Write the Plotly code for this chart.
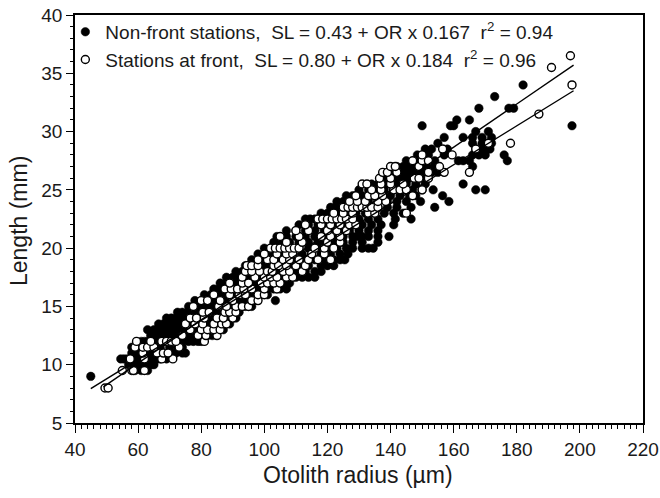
import plotly.graph_objects as go

# Non-front stations (filled): length level (mm) -> otolith radii (um)
nonfront_rows = [
    (9.0, [45]),
    (9.5, [59, 61, 63]),
    (10.0, [57, 58, 59.5, 61, 62.5, 64, 65]),
    (10.5, [54.5, 55.5, 56.5, 58, 59, 61, 63, 64.5, 66, 67, 69]),
    (11.0, [58, 59.5, 61, 63, 64, 66.5, 68, 70.5, 72, 74, 75]),
    (11.5, [58, 60.5, 62, 63.5, 66, 67, 70, 72.5, 74]),
    (12.0, [61, 62, 63, 65.5, 66, 68, 73, 74, 76, 77.5, 79, 80]),
    (12.5, [64, 65.5, 67, 69, 71, 72.5, 75, 76.5, 78, 80, 82, 83.5]),
    (13.0, [63, 65, 66.5, 68, 69.5, 71, 73, 75, 77, 79, 81, 83, 85, 87]),
    (13.5, [66.5, 68, 70, 72, 73.5, 75, 77, 79, 81, 83, 85, 87, 89]),
    (14.0, [69, 70.5, 72, 74, 76, 78, 80, 82, 84, 86, 88, 89.5, 91]),
    (14.5, [72.5, 74, 76, 78, 80, 82, 84, 86, 88, 90, 92]),
    (15.0, [76, 78, 80, 82, 84, 86, 88, 90, 92, 94, 96]),
    (15.5, [78, 80, 81.5, 83, 85, 87, 89, 91, 93, 95, 97, 103.5]),
    (16.0, [81, 83, 85, 87, 89, 91, 93, 95, 97, 99, 101]),
    (16.5, [84, 85.5, 87, 89, 91, 93, 95, 97, 99, 101, 103, 105, 107]),
    (17.0, [86, 88, 90, 92, 94, 96, 98, 100, 102, 104, 106, 108]),
    (17.5, [88, 90, 92, 94, 96, 98, 100, 102, 104, 106, 108, 110, 112, 114, 116]),
    (18.0, [91, 93, 95, 97, 99, 101, 103, 105, 107, 109, 111, 113, 116, 118]),
    (18.5, [94, 96, 98, 100, 102, 104, 106, 108, 110, 112, 114, 118, 120, 122]),
    (19.0, [96, 98, 100, 102, 104, 107, 110, 113, 116, 119, 122, 124, 125.5]),
    (19.5, [98, 100.5, 103, 106, 109, 112, 115, 118, 121, 124, 126.5]),
    (20.0, [100, 102, 105, 108, 111, 114, 117, 120, 123, 126, 128, 131, 133, 134.5]),
    (20.5, [103, 105, 108, 111, 114, 117, 119, 122, 125, 128, 131, 136]),
    (21.0, [104, 107, 110, 113, 116, 119, 122, 125, 128, 129.5, 131, 133, 136, 139.5]),
    (21.5, [107, 110, 113, 116, 119, 121, 124, 127, 130, 133, 136]),
    (22.0, [111, 114, 117, 119, 122, 125, 128, 131, 134, 137, 141]),
    (22.5, [113, 114.5, 116, 118, 121, 124, 127, 130, 133, 136, 141.5, 146.5]),
    (23.0, [118, 120, 123, 126, 129, 132, 135, 138, 141, 144]),
    (23.5, [121, 122.5, 124, 127, 130, 133, 136, 139, 142, 146.5, 154]),
    (24.0, [123, 125, 127, 130, 133, 136, 139, 142, 145, 149.5, 158.5]),
    (24.5, [126, 128, 131, 134, 137, 140, 143, 146, 148, 156.5]),
    (25.0, [130, 133, 135.5, 138, 141, 144, 147, 150, 153.5, 167, 170]),
    (25.5, [134, 136, 139, 142, 145, 148, 151, 163]),
    (26.0, [137, 139, 142, 144, 146, 148, 150, 152]),
    (26.5, [141, 144, 146, 148, 150, 153, 155]),
    (27.0, [142, 144, 145, 147, 151, 153, 155, 166]),
    (27.5, [145, 149, 152, 154, 161.5, 163, 165, 177]),
    (28.0, [148.5, 152, 157, 166, 168, 170, 176]),
    (28.5, [151, 153, 158, 167, 168.5, 170, 171.5]),
    (29.0, [155, 166, 169, 170.5, 172]),
    (29.5, [157, 163, 166, 169, 172]),
    (30.0, [167, 171]),
    (30.5, [150, 159, 160, 197.5]),
    (31.0, [161, 165]),
    (32.0, [168, 177.5, 179]),
    (33.0, [173]),
    (34.0, [182]),
]

# Stations at front (open): length level (mm) -> otolith radii (um)
front_rows = [
    (8.0, [49.5, 50.5]),
    (9.5, [55, 58, 58.5, 62]),
    (10.5, [57.5, 62, 67.5, 71]),
    (11.0, [61.5, 66, 68, 69.5]),
    (11.5, [59, 61.5, 63, 65, 73]),
    (12.0, [59.5, 64, 67.5, 69, 70.5, 72, 81]),
    (12.5, [74, 79, 81.5, 85]),
    (13.0, [76.5, 80, 82, 84, 86]),
    (13.5, [75, 78, 80.5, 84, 86.5, 88]),
    (14.0, [76.5, 78.5, 81, 85, 87, 90]),
    (14.5, [80.5, 82.5, 87.5, 89, 91]),
    (15.0, [77.5, 85.5, 88, 91, 93, 95]),
    (15.5, [80, 82, 86, 90, 96, 98]),
    (16.0, [84, 89, 92, 94, 98, 100]),
    (16.5, [87.5, 89.5, 91.5, 93.5, 96, 100, 104]),
    (17.0, [89, 93, 95, 99, 101, 103, 105]),
    (17.5, [93, 97, 100, 102, 104, 107, 109]),
    (18.0, [94, 96, 98.5, 101, 102.5, 106, 108, 112]),
    (18.5, [94.5, 96, 98, 103, 104.5, 107, 110, 113]),
    (19.0, [98, 101, 103, 106, 108, 111, 114, 117, 121]),
    (19.5, [100, 104, 107, 109, 115, 119]),
    (20.0, [102, 103.5, 105, 106.5, 108, 109.5, 111, 116, 119, 122]),
    (20.5, [107, 112, 120, 124]),
    (21.0, [105, 111, 118, 121, 124]),
    (21.5, [110, 114, 120, 123, 126]),
    (22.0, [113, 118, 121, 124, 127, 129]),
    (22.5, [117, 118.5, 120, 121.5, 123, 124.5, 126, 128]),
    (23.0, [122, 125, 128, 133, 135, 145]),
    (23.5, [125, 126.5, 128, 129.5, 131, 132.5, 134, 136]),
    (24.0, [127, 129.5, 132, 136, 138.5]),
    (24.5, [129, 133, 135, 137.5, 147]),
    (25.0, [134, 137, 141, 143, 145, 150]),
    (25.5, [131, 132.5, 137, 140, 144]),
    (26.0, [136.5, 140, 147.5, 149, 152]),
    (26.5, [137.5, 139, 142, 152, 157, 165]),
    (27.0, [140, 141.5, 149, 155.5]),
    (27.5, [147, 150, 152]),
    (28.0, [150, 159.5]),
    (28.5, [156.5, 167]),
    (29.0, [171, 178]),
    (31.5, [187]),
    (34.0, [197.5]),
    (35.5, [191]),
    (36.5, [197]),
]

# Fitted lines (end points)
nonfront_fit_x = [45, 198]
nonfront_fit_y = [7.95, 33.5]
front_fit_x = [49, 198]
front_fit_y = [8.1, 35.7]

nonfront_x = [x for y, xs in nonfront_rows for x in xs]
nonfront_y = [y for y, xs in nonfront_rows for x in xs]
front_x = [x for y, xs in front_rows for x in xs]
front_y = [y for y, xs in front_rows for x in xs]

NB = "\u00a0"
name_nonfront = ("Non-front stations," + NB * 2 + "SL = 0.43 + OR x 0.167" + NB * 2
                 + "r<sup>2</sup> = 0.94")
name_front = ("Stations at front," + NB * 2 + "SL = 0.80 + OR x 0.184" + NB * 2
              + "r<sup>2</sup> = 0.96")

FONT = "Liberation Sans, Arial, Helvetica, sans-serif"
TXT = "#1a1a1a"

fig = go.Figure()
fig.add_trace(go.Scatter(
    x=nonfront_x, y=nonfront_y, mode="markers", name=name_nonfront,
    marker=dict(size=8.5, color="black", line=dict(width=0.5, color="black")),
))
fig.add_trace(go.Scatter(
    x=front_x, y=front_y, mode="markers", name=name_front,
    marker=dict(size=8, color="white", line=dict(width=1.4, color="black")),
))
fig.add_trace(go.Scatter(
    x=nonfront_fit_x, y=nonfront_fit_y, mode="lines", showlegend=False,
    line=dict(color="black", width=1.4),
))
fig.add_trace(go.Scatter(
    x=front_fit_x, y=front_fit_y, mode="lines", showlegend=False,
    line=dict(color="black", width=1.4),
))

axis_common = dict(
    showline=True, linecolor="black", linewidth=1.6, mirror=True,
    ticks="outside", tickcolor="black", tickwidth=1.4,
    showgrid=False, zeroline=False, automargin=False,
    tickfont=dict(family=FONT, size=19, color=TXT),
)
fig.update_xaxes(range=[40, 220], tick0=40, dtick=20, ticklen=8,
                 minor=dict(dtick=2, ticks="outside", ticklen=4, tickwidth=1.1,
                            tickcolor="black"),
                 **axis_common)
fig.update_yaxes(range=[5, 40], tick0=5, dtick=5, ticklen=7,
                 minor=dict(dtick=1, ticks="outside", ticklen=3.5, tickwidth=1.1,
                            tickcolor="black"),
                 **axis_common)

fig.add_annotation(text="Otolith radius (µm)", xref="paper", yref="paper",
                   x=0.498, y=-0.1275, xanchor="center", yanchor="middle",
                   showarrow=False, font=dict(family=FONT, size=23, color=TXT))
fig.add_annotation(text="Length (mm)", xref="paper", yref="paper",
                   x=-0.0986, y=0.495, xanchor="center", yanchor="middle",
                   textangle=-90, showarrow=False,
                   font=dict(family=FONT, size=23, color=TXT))

fig.update_layout(
    width=660, height=498,
    margin=dict(l=75, r=17, t=15, b=75, autoexpand=False),
    paper_bgcolor="white", plot_bgcolor="white",
    showlegend=True,
    legend=dict(x=-0.017, y=1.005, xanchor="left", yanchor="top",
                bgcolor="rgba(0,0,0,0)", borderwidth=0, itemwidth=30,
                tracegroupgap=0,
                font=dict(family=FONT, size=19, color=TXT)),
)

fig.write_html("out.html")
